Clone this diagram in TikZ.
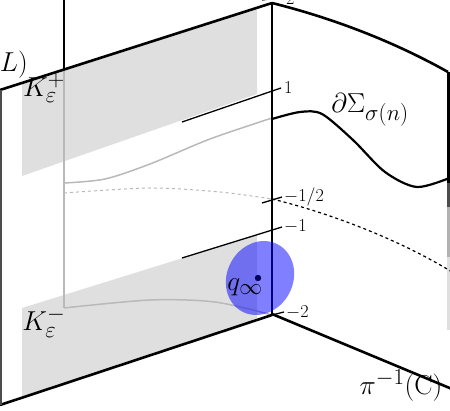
\documentclass[tikz,border=0pt]{standalone}
\usepackage{tikz}
\usetikzlibrary{positioning}

\tikzset{
  edge/.style={line width=2.6pt},
  hidden/.style={gray!55, line width=1.5pt},
  tickline/.style={line width=1.3pt},
  ticklbl/.style={font=\fontsize{17.28}{20}\selectfont, inner sep=0pt, anchor=west, scale=1.05, transform shape},
  biglbl/.style={font=\fontsize{24.88}{30}\selectfont, inner sep=0pt, scale=1.1, transform shape}
}

\begin{document}
\begin{tikzpicture}[x=1pt, y=-1pt]
        \useasboundingbox (0,0) rectangle (450,411);
        % Shaded bands on the front plane
        \fill[gray!25] (22,83) -- (257,8) -- (257,94) -- (22,176) -- cycle;
        \fill[gray!25] (22,308) -- (257,235) -- (257,320) -- (22,398) -- cycle;
        % Lines behind the front plane
        \draw[hidden] (64,70) -- (64,308);
        \draw[hidden] plot[smooth] coordinates {(64,183) (105,179) (150,164) (210,139) (272,118)};
        \draw[hidden, dashed, line width=1pt] plot[smooth] coordinates {(64,193) (150,188) (220,192) (272,199)};
        \draw[hidden] plot[smooth] coordinates {(64,308) (150,300) (215,302) (272,315)};
        % Vertical line above the plane
        \draw[line width=1.6pt] (64,-2) -- (64,70);
        % Front plane
        \draw[edge] (0,90) -- (272,3);
        \draw[edge] (0,405) -- (272,315);
        \draw[gray!60!black, line width=2.6pt] (1,90) -- (1,405);
        \draw[line width=1.6pt] (272,3) -- (272,315);
        % Levels on the plane
        \draw[tickline] (262,0) -- (283,-3);
        \node[ticklbl] (two) at (286,-1) {$2$};
        \draw[tickline] (182,122) -- (281,88);
        \node[ticklbl] (one) at (284,88) {$1$};
        \draw[tickline] (262,203) -- (282,197);
        \node[ticklbl] (half) at (284,197) {$-1/2$};
        \draw[tickline] (182,258) -- (282,227);
        \node[ticklbl] (mone) at (284,226) {$-1$};
        \draw[tickline] (272,315) -- (284,312);
        \node[ticklbl] (mtwo) at (286,312) {$-2$};
        % Second plane
        \draw[edge] (272,3) .. controls (340,20) and (400,45) .. (448,72);
        \draw[edge] (272,314) -- (452,389);
        \draw[line width=3pt] (448.5,72) -- (448.5,183);
        \draw[gray!60!black, line width=3pt] (448.5,183) -- (448.5,207);
        \draw[gray!60, line width=3pt] (448.5,207) -- (448.5,257);
        \draw[gray!25, line width=3pt] (448.5,257) -- (448.5,330);
        % Boundary curve
        \draw[line width=2.2pt] plot[smooth] coordinates {(272,119) (300,112) (322,114) (353,140) (385,172) (417,187) (452,177)};
        \draw[line width=1.2pt, dashed] (272,199) .. controls (330,213) and (400,240) .. (452,272);
        % Neighbourhood of the point
        \fill[blue, opacity=0.5] (260,278) ellipse [x radius=33, y radius=38, rotate=-28];
        \fill[blue!35!black] (258,278) circle (3.2);
        % Labels
        \node[biglbl] (qinf) at (245,287) {$q_\infty$};
        \node[biglbl] (kplus) at (44,88) {$K_\varepsilon^+$};
        \node[biglbl] (kminus) at (44,322) {$K_\varepsilon^-$};
        \node[biglbl] (sigma) at (370,110) {$\partial\Sigma_{\sigma(n)}$};
        \node[biglbl, anchor=east] (piL) at (28,63) {$\pi^{-1}(L)$};
        \node[biglbl] (piC) at (401,386) {$\pi^{-1}(\mathrm{C})$};
\end{tikzpicture}
\end{document}
